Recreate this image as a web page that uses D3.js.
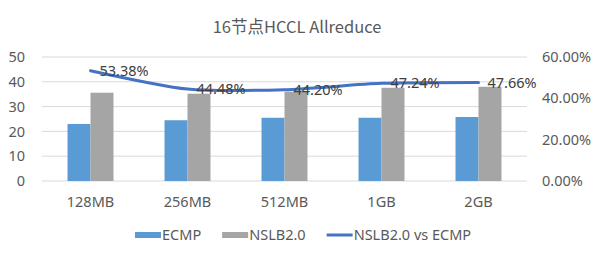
<!DOCTYPE html>
<html>
<head>
<meta charset="utf-8">
<script src="https://cdn.jsdelivr.net/npm/d3@7"></script>
<style>
  body { margin: 0; background: #fff; }
  text { font-family: "Noto Sans", "Noto Sans CJK SC", sans-serif; fill: #595959; }
</style>
</head>
<body>
<script>
const categories = ['128MB', '256MB', '512MB', '1GB', '2GB'];
const ecmp = [23.0, 24.5, 25.5, 25.5, 25.8];
const nslb = [35.6, 35.2, 36.0, 37.6, 38.0];
const ratio = [53.38, 44.48, 44.20, 47.24, 47.66];
const leftTicks = [0, 10, 20, 30, 40, 50];
const rightTicks = [0, 20, 40, 60];

const W = 600, H = 257;
const M = { left: 42, right: 73, top: 57, bottom: 76 };
const innerW = W - M.left - M.right;
const innerH = H - M.top - M.bottom;
const FS = '14.5px';

const svg = d3.select('body').append('svg')
    .attr('width', W)
    .attr('height', H);

svg.append('text')
    .attr('x', 297)
    .attr('y', 33)
    .attr('text-anchor', 'middle')
    .style('font-family', '"Noto Sans CJK SC", sans-serif')
    .style('font-size', '16.5px')
    .text('16节点HCCL Allreduce');

const canvas = svg.append('g')
    .attr('transform', `translate(${M.left},${M.top})`);

const x = d3.scaleBand().domain(categories).range([0, innerW]).paddingInner(0.526).paddingOuter(0.263);
const xSub = d3.scaleBand().domain(['ECMP', 'NSLB2.0']).range([0, x.bandwidth()]);
const y = d3.scaleLinear().domain([0, 50]).range([innerH, 0]);
const y2 = d3.scaleLinear().domain([0, 60]).range([innerH, 0]);

// gridlines
canvas.append('g')
    .selectAll('line')
    .data(leftTicks)
    .enter().append('line')
    .attr('x1', 0).attr('x2', innerW)
    .attr('y1', d => y(d)).attr('y2', d => y(d))
    .attr('stroke', '#d9d9d9')
    .attr('stroke-width', 1);

const yAxis = d3.axisLeft(y).tickValues(leftTicks).tickSize(0).tickPadding(17);
const yAxisGroup = canvas.append('g').call(yAxis);
yAxisGroup.select('.domain').remove();
yAxisGroup.selectAll('text').style('font-size', FS).attr('fill', '#595959');

const y2Axis = d3.axisRight(y2).tickValues(rightTicks).tickSize(0).tickPadding(15)
    .tickFormat(d => d.toFixed(2) + '%');
const y2AxisGroup = canvas.append('g').attr('transform', `translate(${innerW},0)`).call(y2Axis);
y2AxisGroup.select('.domain').remove();
y2AxisGroup.selectAll('text').style('font-size', FS).attr('fill', '#595959');

const xAxis = d3.axisBottom(x).tickSize(0).tickPadding(16);
const xAxisGroup = canvas.append('g').attr('transform', `translate(0,${innerH})`).call(xAxis);
xAxisGroup.select('.domain').remove();
xAxisGroup.selectAll('text').style('font-size', FS).attr('fill', '#595959');

// bars
canvas.append('g').selectAll('rect')
    .data(categories.map((c, i) => ({ c, v: ecmp[i] })))
    .enter().append('rect')
    .attr('x', d => x(d.c) + xSub('ECMP'))
    .attr('y', d => y(d.v))
    .attr('width', xSub.bandwidth())
    .attr('height', d => innerH - y(d.v))
    .attr('fill', '#5b9bd5');

canvas.append('g').selectAll('rect')
    .data(categories.map((c, i) => ({ c, v: nslb[i] })))
    .enter().append('rect')
    .attr('x', d => x(d.c) + xSub('NSLB2.0'))
    .attr('y', d => y(d.v))
    .attr('width', xSub.bandwidth())
    .attr('height', d => innerH - y(d.v))
    .attr('fill', '#a5a5a5');

// line
const pts = categories.map((c, i) => ({ c, v: ratio[i] }));
const line = d3.line()
    .x(d => x(d.c) + x.bandwidth() / 2)
    .y(d => y2(d.v))
    .curve(d3.curveCardinal.tension(0.3));

canvas.append('path')
    .datum(pts)
    .attr('d', line)
    .attr('fill', 'none')
    .attr('stroke', '#4472c4')
    .attr('stroke-width', 3)
    .attr('stroke-linecap', 'round');

canvas.append('g').selectAll('text')
    .data(pts)
    .enter().append('text')
    .attr('x', d => x(d.c) + x.bandwidth() / 2 + 9)
    .attr('y', d => y2(d.v))
    .attr('dy', '0.35em')
    .style('font-size', FS)
    .style('fill', '#404040')
    .text(d => d.v.toFixed(2) + '%');

// legend
const legendItems = [
    { name: 'ECMP', type: 'rect', color: '#5b9bd5' },
    { name: 'NSLB2.0', type: 'rect', color: '#a5a5a5' },
    { name: 'NSLB2.0 vs ECMP', type: 'line', color: '#4472c4' }
];
const legend = svg.append('g').attr('transform', 'translate(0,235)');
let lx = 135;
legendItems.forEach(item => {
    const g = legend.append('g').attr('transform', `translate(${lx},0)`);
    if (item.type === 'rect') {
        g.append('rect').attr('x', 0).attr('y', -3).attr('width', 26).attr('height', 6).attr('fill', item.color);
    } else {
        g.append('line').attr('x1', 0).attr('x2', 26).attr('y1', 0).attr('y2', 0)
            .attr('stroke', item.color).attr('stroke-width', 3);
    }
    const t = g.append('text')
        .attr('x', 27)
        .attr('dy', '0.35em')
        .style('font-size', FS)
        .text(item.name);
    lx += 27 + t.node().getComputedTextLength() + 21;
});
</script>
</body>
</html>
